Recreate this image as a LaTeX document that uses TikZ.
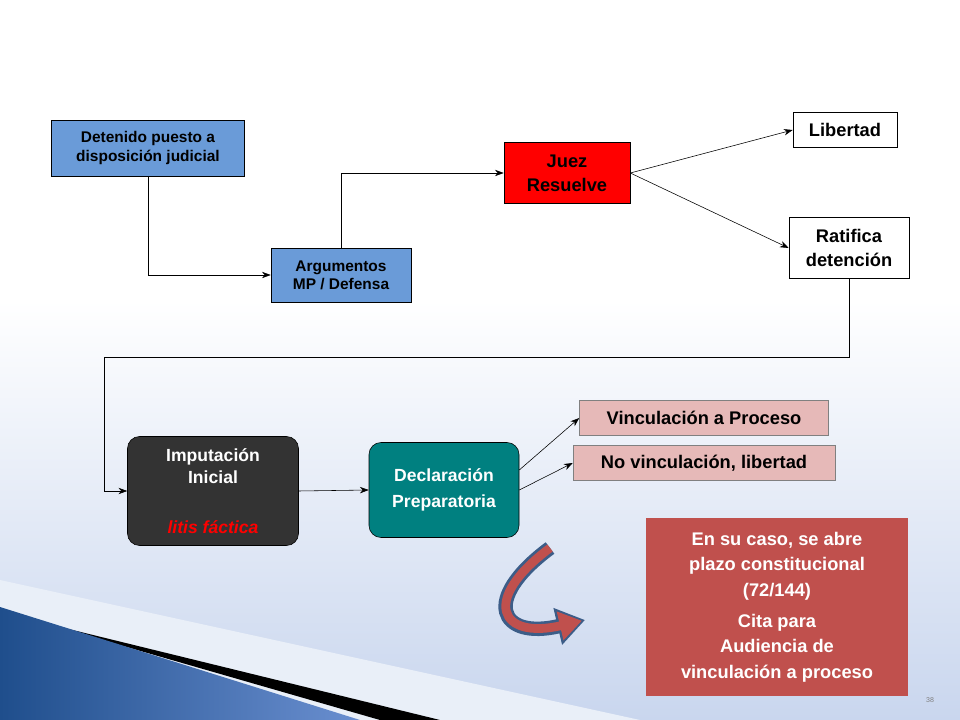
\documentclass[tikz,border=0pt]{standalone}
\usepackage{fontspec}
\setmainfont{Liberation Sans}
\usetikzlibrary{arrows.meta}
\definecolor{boxblue}{HTML}{6A9BD8}
\definecolor{darkbox}{HTML}{333333}
\definecolor{tealbox}{HTML}{008080}
\definecolor{pinkbox}{HTML}{E6B9B8}
\definecolor{redbox}{HTML}{C0504D}
\definecolor{slideblue}{HTML}{1F4E8C}
\definecolor{slidelight}{HTML}{6A8FD0}
\definecolor{bgblue}{HTML}{C9D6EE}
\begin{document}
\begin{tikzpicture}[x=0.025cm,y=-0.025cm,font=\bfseries]
  \tikzstyle{every path}=[thin];
  \tikzstyle{conn}=[-{Stealth[length=2.2mm,width=1.6mm]},black];
  \tikzstyle{sq}=[draw,align=center,inner sep=0pt,font=\fontsize{11}{13}\selectfont\bfseries];
  \tikzstyle{rnd}=[draw,rounded corners=3mm,align=center,inner sep=0pt,text=white,font=\fontsize{12.5}{15.5}\selectfont\bfseries];
  % background
  \fill[white] (0,0) rectangle (960,300);
  \shade[top color=white,bottom color=bgblue] (0,300) rectangle (960,720);
  \fill[white!60!bgblue] (0,580) -- (640,720) -- (0,720) -- cycle;
  \fill[black] (40,622) -- (440,720) -- (380,720) -- cycle;
  \shade[left color=slideblue,right color=slidelight] (0,607) -- (360,720) -- (0,720) -- cycle;
  \useasboundingbox (0,0) rectangle (960,720);

  \node at (148,148) (det) [sq,fill=boxblue,minimum width=193*0.025cm,minimum height=56*0.025cm] {Detenido puesto a\\ disposición judicial};
  \node at (341,275) (arg) [sq,fill=boxblue,minimum width=140*0.025cm,minimum height=54*0.025cm] {Argumentos\\ MP / Defensa};
  \node at (567,173) (juez) [sq,fill=red,minimum width=126*0.025cm,minimum height=61*0.025cm,font=\fontsize{13}{17}\selectfont\bfseries] {Juez\\ Resuelve};
  \node at (845,130) (lib) [sq,fill=white,minimum width=104*0.025cm,minimum height=35*0.025cm,font=\fontsize{13}{17}\selectfont\bfseries] {Libertad};
  \node at (849,248) (rat) [sq,fill=white,minimum width=120*0.025cm,minimum height=61*0.025cm,font=\fontsize{13}{17}\selectfont\bfseries] {Ratifica\\ detención};
  \node at (213,491) (imp) [rnd,fill=darkbox,minimum width=171*0.025cm,minimum height=109*0.025cm] {Imputación\\ Inicial\\[7mm] {\color{red}\itshape litis fáctica}};
  \node at (444,490) (dec) [rnd,fill=tealbox,minimum width=150*0.025cm,minimum height=95*0.025cm,font=\fontsize{12.5}{19}\selectfont\bfseries] {Declaración\\ Preparatoria};
  \node at (704,418) (vin) [sq,fill=pinkbox,draw=gray,minimum width=249*0.025cm,minimum height=35*0.025cm,font=\fontsize{13}{16}\selectfont\bfseries] {Vinculación a Proceso};
  \node at (704,463) (novin) [sq,fill=pinkbox,draw=gray,minimum width=262*0.025cm,minimum height=35*0.025cm,font=\fontsize{13}{16}\selectfont\bfseries] {No vinculación, libertad};
  \node at (777,607) (cita) [fill=redbox,text=white,align=center,inner sep=0pt,minimum width=262*0.025cm,minimum height=177*0.025cm,font=\fontsize{13}{18}\selectfont\bfseries] {En su caso, se abre\\ plazo constitucional\\ (72/144)\\[1.5mm] Cita para\\ Audiencia de\\ vinculación a proceso};

  \draw[conn] (det.south) |- (arg.west);
  \draw[conn] (arg.north) |- (juez.west);
  \draw[conn] (juez.east) -- (lib.west);
  \draw[conn] (juez.east) -- (rat.west);
  \draw[conn] (rat.south) -- (849,357) -| (104,491) -- (imp.west);
  \draw[conn] (imp.east) -- (dec.west);
  \draw[conn] (dec.east) ++(0,-20) -- (vin.west);
  \draw[conn] (dec.east) -- (novin.west);

  % curved arrow
  \coordinate (ca) at (550,548);
  \coordinate (cb) at (585,620);
  \draw[line width=3.6mm,color=slideblue!70!gray,-{Triangle[length=7mm,width=9mm]}] (ca) .. controls (480,600) and (500,640) .. (cb);
  \draw[line width=2.2mm,color=redbox,-{Triangle[length=5.6mm,width=7mm]},shorten >=0.8mm] (ca) .. controls (480,600) and (500,640) .. (cb);

  \node at (930,700) (pg) [font=\tiny\mdseries,text=gray] {38};
\end{tikzpicture}
\end{document}
